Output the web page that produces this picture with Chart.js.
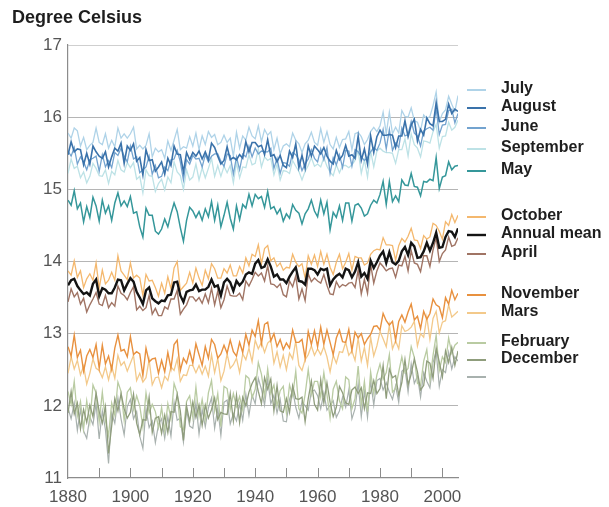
<!DOCTYPE html>
<html><head><meta charset="utf-8">
<script src="https://cdn.jsdelivr.net/npm/chart.js@4.4.1/dist/chart.umd.min.js"></script>
<style>html,body{margin:0;padding:0;background:#fff;}</style>
</head><body>
<canvas id="c" width="609" height="507"></canvas>
<script>
const startYear = 1880;
const yTicks = [11, 12, 13, 14, 15, 16, 17];
const xLabelYears = [1880, 1900, 1920, 1940, 1960, 1980, 2000];

const annualMean = [13.67,13.74,13.76,13.66,13.60,13.55,13.57,13.53,13.69,13.75,
13.52,13.63,13.61,13.56,13.56,13.64,13.75,13.74,13.60,13.69,
13.77,13.72,13.58,13.50,13.41,13.60,13.64,13.49,13.45,13.42,
13.46,13.45,13.53,13.54,13.71,13.72,13.53,13.44,13.58,13.60,
13.61,13.68,13.59,13.61,13.61,13.65,13.75,13.65,13.67,13.53,
13.71,13.76,13.71,13.59,13.73,13.67,13.72,13.82,13.85,13.83,
13.97,14.02,13.91,13.93,14.03,13.93,13.79,13.82,13.75,13.75,
13.70,13.79,13.86,13.92,13.73,13.72,13.68,13.90,13.90,13.88,
13.82,13.90,13.88,13.90,13.67,13.75,13.80,13.83,13.78,13.90,
13.88,13.78,13.86,13.99,13.79,13.84,13.76,14.01,13.91,13.99,
14.08,14.14,13.98,14.13,13.99,13.96,14.01,14.14,14.20,14.09,
14.26,14.21,14.05,14.06,14.14,14.26,14.15,14.26,14.40,14.19,
14.20,14.34,14.42,14.41,14.34,14.46];

const july = [15.78,15.71,15.85,15.81,15.60,15.72,15.55,15.61,15.65,15.85,
15.65,15.62,15.77,15.57,15.68,15.59,15.85,15.71,15.77,15.71,
15.77,15.86,15.56,15.61,15.56,15.61,15.77,15.45,15.57,15.52,
15.55,15.43,15.67,15.54,15.68,15.83,15.55,15.59,15.57,15.73,
15.60,15.78,15.55,15.74,15.62,15.80,15.72,15.76,15.62,15.65,
15.75,15.65,15.71,15.46,15.79,15.57,15.74,15.68,15.86,15.74,
15.70,15.88,15.66,15.83,15.75,15.80,15.55,15.71,15.49,15.60,
15.63,15.59,15.78,15.68,15.63,15.51,15.63,15.68,15.79,15.65,
15.61,15.84,15.65,15.80,15.62,15.56,15.72,15.58,15.69,15.70,
15.80,15.55,15.77,15.79,15.73,15.62,15.69,15.80,15.86,15.80,
15.88,16.07,15.77,16.07,15.77,15.86,15.78,16.09,16.01,16.00,
16.13,15.95,15.93,15.81,16.03,15.98,16.01,16.16,16.35,15.93,
16.05,16.10,16.29,16.18,16.08,16.30];

const august = [15.48,15.66,15.52,15.56,15.55,15.34,15.50,15.35,15.60,15.52,
15.46,15.43,15.52,15.31,15.45,15.57,15.53,15.64,15.36,15.60,
15.54,15.63,15.39,15.44,15.20,15.55,15.40,15.41,15.25,15.31,
15.38,15.21,15.43,15.33,15.60,15.49,15.48,15.24,15.51,15.41,
15.51,15.46,15.53,15.42,15.52,15.41,15.64,15.58,15.46,15.35,
15.40,15.59,15.41,15.44,15.41,15.48,15.43,15.66,15.52,15.65,
15.65,15.59,15.61,15.48,15.69,15.46,15.48,15.38,15.47,15.33,
15.30,15.53,15.44,15.63,15.30,15.47,15.29,15.60,15.46,15.60,
15.55,15.49,15.58,15.46,15.39,15.35,15.54,15.41,15.47,15.61,
15.46,15.48,15.43,15.74,15.40,15.56,15.35,15.74,15.51,15.73,
15.82,15.75,15.75,15.76,15.75,15.58,15.74,15.74,15.95,15.73,
15.89,15.97,15.67,15.83,15.75,15.99,15.91,15.88,16.20,15.94,
15.94,15.97,16.18,16.05,16.11,16.08];

const june = [15.53,15.46,15.58,15.35,15.45,15.38,15.27,15.41,15.43,15.46,
15.25,15.48,15.31,15.40,15.30,15.51,15.47,15.57,15.46,15.38,
15.60,15.42,15.45,15.23,15.27,15.31,15.46,15.21,15.33,15.16,
15.18,15.31,15.26,15.41,15.42,15.54,15.38,15.13,15.41,15.35,
15.47,15.42,15.43,15.31,15.48,15.38,15.46,15.49,15.49,15.39,
15.32,15.49,15.47,15.21,15.45,15.27,15.49,15.45,15.60,15.45,
15.57,15.49,15.53,15.52,15.52,15.57,15.29,15.43,15.22,15.37,
15.36,15.32,15.51,15.48,15.41,15.26,15.35,15.42,15.55,15.43,
15.38,15.56,15.41,15.58,15.22,15.44,15.34,15.48,15.30,15.54,
15.53,15.32,15.55,15.52,15.45,15.40,15.44,15.52,15.58,15.54,
15.64,15.83,15.56,15.83,15.54,15.64,15.58,15.85,15.74,15.76,
15.94,15.78,15.74,15.60,15.81,15.84,15.86,15.82,16.12,15.76,
15.89,15.90,16.09,16.11,15.92,16.05];

const september = [15.22,15.42,15.29,15.32,15.16,15.24,15.09,15.18,15.36,15.29,
15.19,15.18,15.27,15.08,15.25,15.20,15.40,15.27,15.24,15.37,
15.30,15.37,15.14,15.18,14.95,15.27,15.19,15.18,14.97,15.08,
15.14,14.99,15.17,15.09,15.38,15.24,15.19,15.00,15.27,15.13,
15.17,15.35,15.13,15.30,15.16,15.29,15.43,15.18,15.33,15.18,
15.32,15.23,15.33,15.09,15.37,15.16,15.31,15.30,15.48,15.34,
15.36,15.56,15.31,15.45,15.40,15.43,15.20,15.35,15.13,15.26,
15.25,15.22,15.40,15.32,15.25,15.13,15.25,15.33,15.44,15.32,
15.35,15.31,15.44,15.32,15.24,15.19,15.34,15.23,15.33,15.33,
15.30,15.34,15.40,15.54,15.22,15.41,15.17,15.53,15.31,15.53,
15.57,15.53,15.51,15.51,15.50,15.36,15.55,15.55,15.70,15.46,
15.77,15.62,15.57,15.45,15.67,15.66,15.64,15.80,15.90,15.57,
15.73,15.74,15.93,15.82,15.86,15.96];

const may = [14.85,14.78,14.98,14.73,14.81,14.55,14.76,14.61,14.89,14.77,
14.56,14.85,14.67,14.77,14.57,14.81,14.95,14.77,14.84,14.76,
14.90,14.67,14.69,14.48,14.34,14.74,14.64,14.64,14.42,14.38,
14.45,14.59,14.48,14.66,14.81,14.69,14.47,14.28,14.57,14.75,
14.70,14.61,14.69,14.57,14.73,14.62,14.83,14.57,14.78,14.48,
14.64,14.82,14.60,14.45,14.77,14.58,14.79,14.74,14.93,14.77,
14.93,14.87,14.90,14.75,14.97,14.73,14.76,14.66,14.73,14.56,
14.66,14.60,14.79,14.71,14.67,14.52,14.66,14.73,14.85,14.70,
14.62,14.85,14.66,14.82,14.44,14.68,14.61,14.77,14.57,14.81,
14.81,14.56,14.78,14.80,14.74,14.63,14.66,14.78,14.85,14.81,
14.93,15.11,14.79,15.11,14.83,14.91,14.83,15.13,15.06,15.05,
15.22,15.04,15.03,14.91,15.11,15.10,15.14,15.12,15.44,15.01,
15.17,15.19,15.38,15.27,15.32,15.33];

const october = [13.87,13.81,14.01,13.78,13.87,13.64,13.76,13.83,13.74,13.98,
13.63,13.88,13.69,13.74,13.85,13.74,14.08,13.87,13.81,13.75,
13.98,13.77,13.81,13.77,13.53,13.82,13.73,13.74,13.64,13.52,
13.70,13.56,13.79,13.62,13.91,14.00,13.60,13.65,13.70,13.85,
13.70,13.91,13.77,13.67,13.88,13.76,13.97,13.90,13.77,13.77,
13.90,13.84,13.95,13.80,13.80,13.93,13.84,14.05,13.94,14.10,
14.07,14.23,13.97,14.18,14.22,14.01,14.05,13.93,13.98,13.88,
13.92,13.91,14.10,13.99,13.93,13.97,13.77,14.08,13.96,14.09,
13.93,14.14,13.96,14.10,13.92,13.82,13.99,14.10,13.90,13.99,
14.11,13.88,14.07,14.05,14.05,13.95,13.98,14.10,14.15,14.17,
14.16,14.33,14.23,14.23,14.22,14.02,14.22,14.32,14.27,14.35,
14.46,14.30,14.29,14.18,14.36,14.31,14.34,14.53,14.50,14.42,
14.31,14.55,14.50,14.65,14.54,14.64];

const april = [13.44,13.62,13.51,13.57,13.41,13.49,13.30,13.40,13.48,13.57,
13.41,13.39,13.53,13.36,13.43,13.38,13.66,13.56,13.53,13.47,
13.57,13.65,13.33,13.38,13.32,13.36,13.53,13.27,13.35,13.25,
13.25,13.37,13.34,13.48,13.48,13.60,13.27,13.34,13.40,13.51,
13.51,13.45,13.50,13.42,13.55,13.43,13.63,13.40,13.59,13.36,
13.47,13.66,13.53,13.52,13.52,13.56,13.47,13.73,13.66,13.75,
13.85,13.80,13.84,13.73,13.94,13.69,13.68,13.64,13.69,13.54,
13.51,13.73,13.65,13.80,13.48,13.62,13.46,13.83,13.72,13.77,
13.73,13.70,13.82,13.67,13.55,13.54,13.72,13.64,13.68,13.66,
13.70,13.71,13.64,13.88,13.55,13.75,13.56,13.96,13.70,13.87,
13.98,13.93,13.87,13.90,13.91,13.78,13.95,13.94,14.07,13.87,
14.15,13.98,13.96,13.86,14.08,14.08,13.93,14.16,14.33,14.00,
14.11,14.16,14.34,14.21,14.23,14.33];

const november = [12.82,12.69,12.98,12.67,12.77,12.48,12.69,12.78,12.67,12.85,
12.52,12.84,12.58,12.69,12.50,12.80,12.98,12.76,12.78,12.68,
12.96,12.71,12.75,12.72,12.42,12.80,12.61,12.65,12.66,12.45,
12.63,12.47,12.74,12.52,12.85,12.91,12.49,12.66,12.59,12.76,
12.59,12.86,12.71,12.56,12.82,12.66,12.92,12.85,12.66,12.72,
12.84,12.73,12.91,12.75,12.69,12.88,12.74,12.99,12.84,13.05,
12.96,13.18,12.86,13.13,13.16,12.90,13.00,12.82,12.92,12.78,
12.87,12.80,13.05,12.88,12.88,12.92,12.66,13.03,12.85,13.04,
12.82,13.09,12.85,13.05,12.88,12.71,12.94,13.05,12.89,12.88,
13.06,12.77,13.02,12.94,13.00,12.85,12.93,12.99,13.10,13.11,
13.05,13.28,13.18,13.12,13.17,12.91,13.17,13.26,13.16,13.30,
13.41,13.19,13.24,13.07,13.31,13.20,13.28,13.48,13.40,13.37,
13.22,13.50,13.41,13.60,13.47,13.56];

const mars = [12.45,12.68,12.51,12.63,12.43,12.55,12.30,12.45,12.65,12.52,
12.49,12.39,12.54,12.36,12.55,12.38,12.70,12.56,12.61,12.48,
12.59,12.70,12.35,12.45,12.33,12.39,12.64,12.29,12.39,12.40,
12.25,12.41,12.35,12.54,12.49,12.65,12.34,12.43,12.42,12.56,
12.56,12.46,12.56,12.44,12.55,12.41,12.71,12.46,12.66,12.35,
12.48,12.72,12.52,12.57,12.66,12.46,12.72,12.64,12.80,12.61,
12.91,12.79,12.88,12.74,12.87,12.91,12.59,12.75,12.54,12.70,
12.50,12.73,12.65,12.90,12.56,12.49,12.64,12.71,12.83,12.70,
12.79,12.71,12.82,12.68,12.47,12.70,12.59,12.75,12.74,12.88,
12.70,12.76,12.63,12.94,12.62,12.81,12.56,12.95,12.69,12.83,
13.03,12.93,12.82,13.12,12.79,12.90,12.79,13.11,13.03,13.05,
13.09,13.17,12.83,13.00,12.95,13.23,12.92,13.21,13.31,13.01,
13.16,13.18,13.40,13.23,13.27,13.31];

const february = [12.20,12.02,12.34,11.86,12.06,11.68,12.07,11.77,12.29,12.18,
11.78,12.19,11.79,11.59,12.04,11.87,12.33,12.20,11.80,12.19,
12.25,11.95,12.14,12.00,11.71,12.18,11.90,12.02,11.92,11.70,
11.98,11.65,12.03,11.82,12.31,12.18,11.71,11.67,12.06,12.14,
11.84,12.26,11.85,12.09,11.81,12.18,12.35,11.93,12.17,11.71,
12.27,12.24,11.95,12.17,11.99,12.13,11.94,12.42,12.38,12.11,
12.23,12.60,12.44,12.13,12.51,12.17,12.29,12.00,12.21,12.27,
11.90,12.29,12.14,12.48,11.96,11.90,12.16,12.50,12.16,12.34,
12.34,12.12,12.46,12.16,11.83,12.23,12.34,12.07,11.96,12.40,
12.36,11.96,12.10,12.55,12.01,12.34,11.92,12.47,12.17,12.43,
12.58,12.37,12.46,12.71,12.19,12.24,12.47,12.68,12.46,12.52,
12.82,12.67,12.31,12.28,12.62,12.78,12.35,12.70,12.98,12.49,
12.68,12.60,12.94,12.73,12.84,12.88];

const december = [11.90,12.20,11.89,12.04,11.68,11.95,11.77,12.01,11.85,12.18,
11.92,11.76,11.99,11.34,11.72,12.10,11.93,12.17,11.96,11.83,
11.91,12.16,11.76,11.60,11.81,11.80,12.12,11.63,11.83,11.85,
11.62,11.87,11.63,11.92,11.91,12.16,11.93,11.52,12.00,11.78,
12.05,11.84,12.01,11.73,12.01,11.83,11.95,12.11,11.81,11.91,
11.89,11.88,12.17,11.79,12.15,11.77,12.12,12.00,12.19,12.31,
12.39,12.20,12.03,12.39,12.23,12.37,11.93,12.28,11.93,11.91,
12.10,11.91,12.28,12.10,12.09,12.12,11.78,12.10,12.34,12.02,
11.94,12.36,12.04,12.32,12.05,11.85,11.98,12.27,12.18,12.04,
12.02,12.22,12.26,12.17,12.25,11.96,12.18,12.17,12.35,12.17,
12.24,12.56,12.10,12.51,12.39,12.42,12.15,12.32,12.64,12.29,
12.44,12.65,12.47,12.22,12.28,12.62,12.59,12.38,12.80,12.61,
12.40,12.76,12.60,12.81,12.56,12.76];

const january = [11.97,11.82,12.04,11.66,11.95,11.65,11.55,11.85,11.74,12.03,
11.54,11.93,11.67,11.20,11.90,11.76,12.11,11.82,11.60,11.99,
12.09,11.82,11.92,11.58,11.41,11.96,11.70,11.79,11.49,11.74,
11.82,11.55,11.85,11.58,12.05,11.80,11.83,11.50,11.94,11.72,
11.69,12.04,11.61,11.95,11.71,11.97,12.11,11.69,11.97,11.59,
12.05,12.08,11.75,11.89,11.79,12.03,11.80,12.16,11.87,12.15,
12.03,12.38,12.23,12.01,12.37,12.03,12.15,11.90,12.09,11.79,
11.78,12.09,12.22,11.98,11.83,12.06,12.00,11.94,12.20,12.22,
12.14,11.96,12.18,11.94,12.01,12.07,11.84,11.93,12.12,11.98,
12.22,11.82,11.96,12.31,11.85,12.20,11.84,12.35,12.01,12.35,
12.38,12.22,12.32,12.19,12.09,12.28,12.05,12.48,12.52,12.19,
12.58,12.31,12.41,12.12,12.46,12.34,12.25,12.60,12.76,12.27,
12.50,12.46,12.74,12.51,12.68,12.62];

// legend order (top to bottom), as in the reference; January has no label there
const legendLabels = ["July","August","June","September","May","October","Annual mean","April","November","Mars","February","December",""];
const legendKeys   = ["July","August","June","September","May","October","Annual mean","April","November","Mars","February","December","January"];
const legendPixelY = [89,107,127,148,170,216,234,253,294,312,342,359,376];

const seriesDefs = [
  {label:"Annual mean", data:annualMean, color:"#141414", width:2.4},
  {label:"August", data:august, color:"#3a72aa", width:1.6},
  {label:"May", data:may, color:"#35979a", width:1.5},
  {label:"November", data:november, color:"#e8913f", width:1.4},
  {label:"April", data:april, color:"#a07464", width:1.4},
  {label:"December", data:december, color:"#8f9d7c", width:1.3},
  {label:"October", data:october, color:"#f4b86e", width:1.3},
  {label:"June", data:june, color:"#73a3cf", width:1.3},
  {label:"Mars", data:mars, color:"#f3c98a", width:1.3},
  {label:"February", data:february, color:"#b9cba2", width:1.3},
  {label:"January", data:january, color:"#a8b1ae", width:1.2},
  {label:"July", data:july, color:"#afd3e8", width:1.3},
  {label:"September", data:september, color:"#bde2e6", width:1.3}
];

const datasets = seriesDefs.map(s => ({
  label: s.label,
  data: s.data.map((v, i) => ({x: startYear + i, y: v})),
  borderColor: s.color,
  borderWidth: s.width,
  pointRadius: 0,
  tension: 0,
  fill: false
}));

const decorPlugin = {
  id: 'decor',
  afterDatasetsDraw(chart) {
    const ctx = chart.ctx, xs = chart.scales.x, ys = chart.scales.y;
    ctx.save();
    ctx.strokeStyle = '#8c8c8c';
    ctx.lineWidth = 1;
    for (let yr = 1890; yr <= 2000; yr += 10) {
      const px = Math.round(xs.getPixelForValue(yr)) + 0.5;
      ctx.beginPath();
      ctx.moveTo(px, ys.bottom);
      ctx.lineTo(px, ys.bottom - 10);
      ctx.stroke();
    }
    ctx.restore();
  },
  afterDraw(chart) {
    const ctx = chart.ctx;
    ctx.save();
    ctx.fillStyle = '#1e1e1e';
    ctx.font = 'bold 18px "Liberation Sans", Arial, sans-serif';
    ctx.textBaseline = 'middle';
    ctx.textAlign = 'left';
    ctx.fillText('Degree Celsius', 12, 18);
    ctx.font = 'bold 16px "Liberation Sans", Arial, sans-serif';
    legendKeys.forEach((key, i) => {
      const ds = chart.data.datasets.find(d => d.label === key);
      const y = legendPixelY[i];
      ctx.strokeStyle = ds.borderColor;
      ctx.lineWidth = key === 'Annual mean' ? 2.4 : 2;
      ctx.beginPath();
      ctx.moveTo(467, y + 1);
      ctx.lineTo(486, y + 1);
      ctx.stroke();
      if (legendLabels[i]) ctx.fillText(legendLabels[i], 501, y);
    });
    ctx.restore();
  }
};

new Chart(document.getElementById('c'), {
  type: 'line',
  data: {datasets},
  options: {
    responsive: false,
    devicePixelRatio: 1,
    animation: false,
    layout: {padding: {top: 45, right: 151, left: 0, bottom: 0}},
    plugins: {legend: {display: false}, tooltip: {enabled: false}},
    scales: {
      x: {
        type: 'linear',
        min: 1880, max: 2005,
        afterFit: s => { s.height = 29; },
        afterBuildTicks: s => { s.ticks = xLabelYears.map(v => ({value: v})); },
        ticks: {
          color: '#555',
          font: {family: '"Liberation Sans", Arial, sans-serif', size: 17},
          padding: 9,
          maxRotation: 0,
          autoSkip: false,
          callback: v => String(v)
        },
        grid: {display: false, drawTicks: false},
        border: {display: true, color: '#8c8c8c', width: 1.2}
      },
      y: {
        min: 11, max: 17,
        afterFit: s => { s.width = 68; },
        afterBuildTicks: s => { s.ticks = yTicks.map(v => ({value: v})); },
        ticks: {
          color: '#555',
          font: {family: '"Liberation Sans", Arial, sans-serif', size: 17},
          padding: 6,
          callback: v => String(v)
        },
        grid: {color: ctx => ctx.tick && ctx.tick.value === 11 ? 'rgba(0,0,0,0)' : (ctx.tick && ctx.tick.value === 17 ? '#cfcfcf' : '#b5b5b5'), lineWidth: 1, drawTicks: false},
        border: {display: true, color: '#8c8c8c', width: 1.2}
      }
    }
  },
  plugins: [decorPlugin]
});
</script>
</body></html>
